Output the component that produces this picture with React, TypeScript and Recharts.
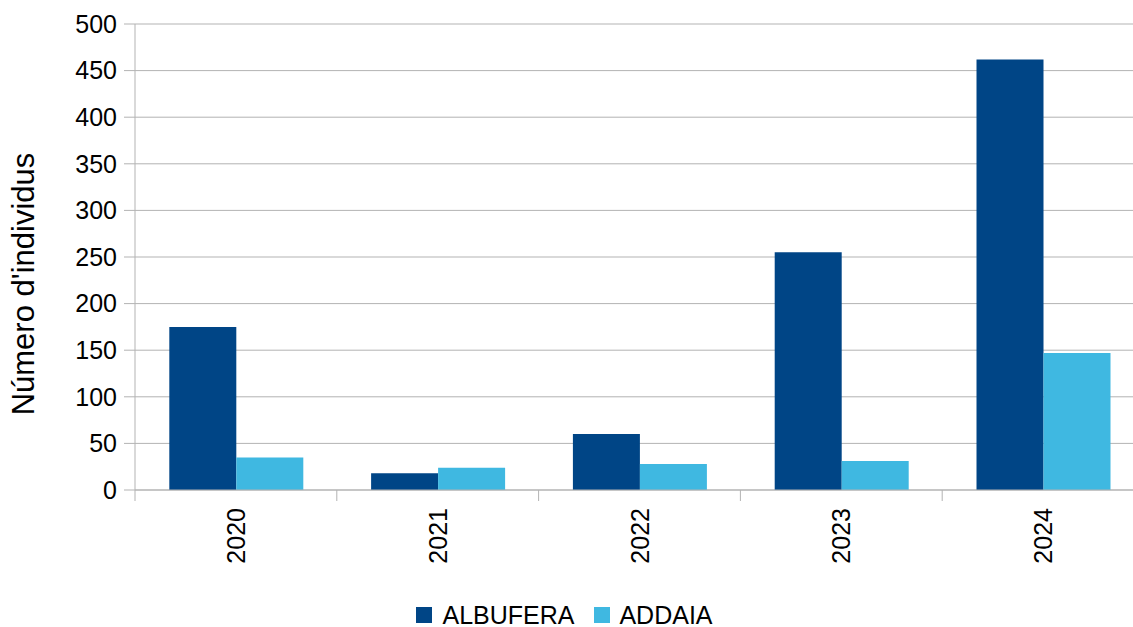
import React from "react"
import { BarChart, Bar, XAxis, YAxis, CartesianGrid, Legend } from "recharts"

const years = ["2020", "2021", "2022", "2023", "2024"]
const albufera = [175, 18, 60, 255, 462]
const addaia = [35, 24, 28, 31, 147]
const yTicks = [0, 50, 100, 150, 200, 250, 300, 350, 400, 450, 500]

const data = years.map((year, i) => ({ year, ALBUFERA: albufera[i], ADDAIA: addaia[i] }))

const DARK = "#004586"
const LIGHT = "#3fb8e1"
const GRID = "#b3b3b3"
const FONT = "'Liberation Sans', Arial, sans-serif"

const YearTick = (props: any) => {
  const { x, y, payload } = props
  const off = payload && typeof payload.offset === "number" ? payload.offset : 100.9
  const top = y - 18
  return (
    <g>
      <line x1={x - off} y1={top} x2={x - off} y2={top + 11} stroke={GRID} strokeWidth={1} />
      <text
        x={x}
        y={y}
        dy="0.36em"
        textAnchor="end"
        transform={`rotate(-90, ${x}, ${y})`}
        fontSize={25}
        fill="#000"
        fontFamily={FONT}
      >
        {payload.value}
      </text>
    </g>
  )
}

const YLabel = (props: any) => {
  const { viewBox } = props
  const cy = viewBox.y + viewBox.height / 2 + 27
  return (
    <text
      x={23}
      y={cy}
      dy="0.36em"
      textAnchor="middle"
      transform={`rotate(-90, 23, ${cy})`}
      fontSize={31}
      fill="#000"
      fontFamily={FONT}
    >
      Número d'individus
    </text>
  )
}

const LegendBox = () => (
  <div
    style={{
      display: "flex",
      justifyContent: "center",
      alignItems: "center",
      height: 40,
      paddingTop: 16,
      paddingRight: 4,
      boxSizing: "border-box",
      fontFamily: FONT,
      fontSize: 25,
      color: "#000",
    }}
  >
    <span style={{ width: 16, height: 16, background: DARK, marginRight: 10 }} />
    <span>ALBUFERA</span>
    <span style={{ width: 16, height: 16, background: LIGHT, marginLeft: 20, marginRight: 9 }} />
    <span>ADDAIA</span>
  </div>
)

export default function App() {
  return (
    <div
      style={{
        position: "absolute",
        left: 0,
        top: 0,
        width: 1133,
        height: 627,
        overflow: "hidden",
        background: "#fff",
        fontFamily: FONT,
      }}
    >
      <BarChart
        width={1150}
        height={627}
        data={data}
        margin={{ top: 24, right: 6, left: 0, bottom: 0 }}
        barCategoryGap="17%"
        barGap={0}
      >
        <CartesianGrid vertical={false} stroke={GRID} />
        <XAxis
          dataKey="year"
          height={97}
          tickLine={false}
          tickSize={11}
          tickMargin={7}
          axisLine={{ stroke: GRID }}
          tick={<YearTick />}
          interval={0}
        />
        <YAxis
          width={135}
          domain={[0, 500]}
          ticks={yTicks}
          tickSize={11}
          tickMargin={7}
          axisLine={{ stroke: GRID }}
          tickLine={{ stroke: GRID }}
          tick={{ fontSize: 25, fill: "#000", fontFamily: FONT }}
          label={<YLabel />}
        />
        <Legend
          verticalAlign="bottom"
          content={<LegendBox />}
          wrapperStyle={{ left: 0, width: 1133, height: 40 }}
        />
        <Bar dataKey="ALBUFERA" fill={DARK} isAnimationActive={false} />
        <Bar dataKey="ADDAIA" fill={LIGHT} isAnimationActive={false} />
      </BarChart>
    </div>
  )
}
